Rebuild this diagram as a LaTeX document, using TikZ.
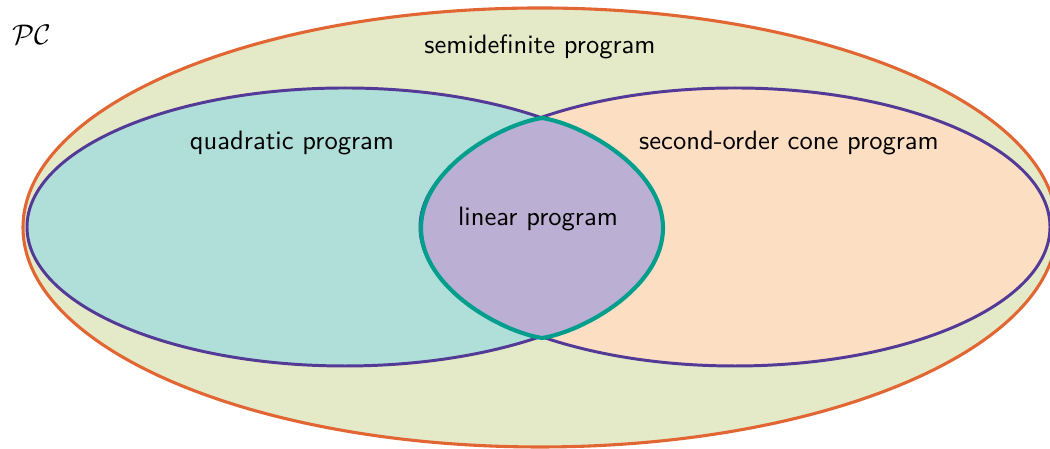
\documentclass[tikz,border=0pt]{standalone}
\usepackage{amsmath,amssymb}
\usepackage{tikz}
\usetikzlibrary{positioning}
\definecolor{SdpFill}{RGB}{228,234,199}
\definecolor{SdpLine}{RGB}{226,102,52}
\definecolor{QpFill}{RGB}{176,222,216}
\definecolor{SocpFill}{RGB}{252,222,195}
\definecolor{LpFill}{RGB}{187,175,212}
\definecolor{SetLine}{RGB}{83,58,150}
\definecolor{LpLine}{RGB}{0,158,140}
\tikzset{
  outerset/.style={fill=SdpFill,draw=SdpLine,line width=1.2pt},
  innerset/.style={draw=SetLine,line width=1.15pt},
  lpset/.style={fill=LpFill,draw=LpLine,line width=1.6pt,line join=round},
  setlabel/.style={font=\sffamily\fontsize{10.3}{12}\selectfont,inner sep=1pt}
}
\begin{document}
\begin{tikzpicture}[x=0.01362cm,y=0.01362cm]
  \clip (0,0) rectangle (1050,449);
  % outer set
  \draw[outerset] (540,221.5) ellipse [x radius=517,y radius=219.5];
  % the two inner sets
  \draw[innerset,fill=QpFill] (345,222) ellipse [x radius=318,y radius=139];
  \draw[innerset,fill=SocpFill] (735,222) ellipse [x radius=315,y radius=139];
  % their common part
  \draw[lpset] (542,331) .. controls (582,325) and (663,281) .. (663,221)
    .. controls (663,161) and (582,117) .. (542,111)
    .. controls (502,117) and (421,161) .. (421,221)
    .. controls (421,281) and (502,325) .. (542,331) -- cycle;
  \node[setlabel] (sdp) at (540,402) {semidefinite program};
  \node[setlabel] (qp) at (292,306) {quadratic program};
  \node[setlabel] (socp) at (789,306) {second-order cone program};
  \node[setlabel] (lp) at (538,230) {linear program};
  \node[inner sep=0pt,scale=1.1] (pc) at (32,414) {$\mathcal{PC}$};
\end{tikzpicture}
\end{document}
